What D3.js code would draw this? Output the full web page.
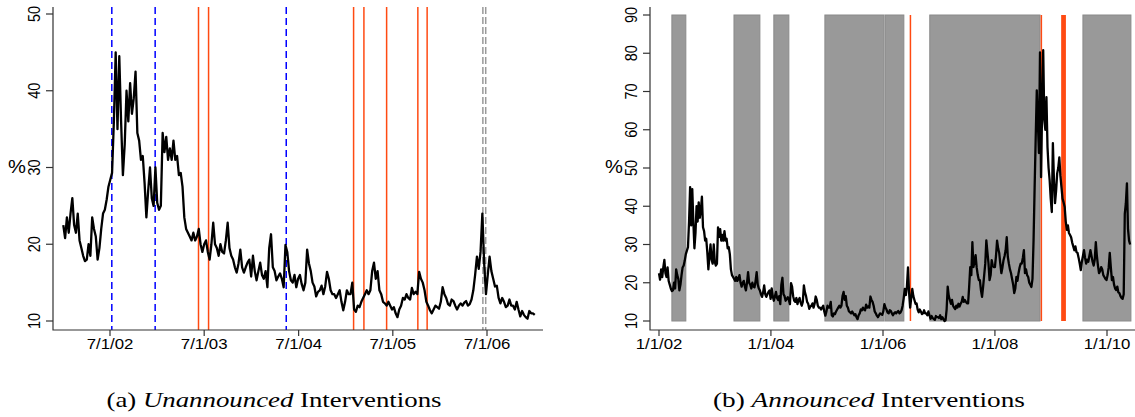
<!DOCTYPE html>
<html><head><meta charset="utf-8">
<script src="https://cdn.jsdelivr.net/npm/d3@7"></script>
<style>body{margin:0;background:#fff}svg{display:block}</style>
</head><body>
<svg id="c" width="1135" height="417"></svg>
<script>
// ---- data ----
const seriesStart = "2002-01-01";
const stepDays = 7;
const volatility = [
 22.5,20.8,23.5,21.5,24.0,26.0,22.5,21.5,24.0,20.5,19.5,18.5,17.8,
 18.0,20.0,18.5,23.5,22.0,21.0,18.0,19.5,22.0,24.0,24.5,25.8,27.5,
 28.4,29.3,36.0,45.0,35.0,44.5,36.0,29.0,33.0,40.0,36.0,41.0,37.0,
 39.0,42.5,34.5,33.5,31.0,31.5,28.0,23.5,27.0,30.0,26.0,25.0,30.0,
 25.4,24.5,25.0,34.5,32.0,34.0,31.0,32.5,31.0,33.5,31.0,31.5,29.0,
 29.3,27.5,23.5,22.0,21.5,21.0,20.5,21.5,20.5,21.0,22.0,20.0,19.0,
 20.0,20.5,19.0,18.0,20.0,22.8,20.0,19.5,18.5,20.0,19.0,18.8,20.5,
 22.8,19.5,18.5,18.0,17.0,16.3,17.5,19.3,17.0,16.3,17.0,17.6,18.0,
 15.8,18.5,16.5,15.3,16.5,17.6,16.0,15.5,16.5,14.4,19.5,21.3,17.0,
 16.5,15.3,15.8,16.2,15.5,14.4,19.9,19.0,16.5,15.3,15.0,16.0,14.4,
 15.5,16.0,14.8,14.0,15.0,19.3,17.5,16.5,15.0,14.5,13.2,13.8,14.0,
 14.6,13.5,14.5,16.4,15.5,14.0,13.5,13.5,13.0,13.5,14.0,12.5,11.4,
 12.5,14.0,13.5,13.5,15.0,11.5,11.2,12.0,11.8,12.5,13.0,13.5,14.0,
 13.5,14.0,16.5,17.6,15.5,16.5,14.0,13.5,12.5,12.3,12.0,12.5,12.0,
 11.5,11.8,11.0,10.5,11.5,12.0,13.0,12.8,13.5,13.0,12.8,14.3,13.5,
 13.8,13.5,16.4,15.5,15.0,14.0,12.5,12.0,11.4,11.0,11.5,12.0,11.8,
 11.6,12.5,14.4,13.5,13.0,12.2,12.0,12.8,12.6,12.0,11.5,12.0,12.3,
 12.0,12.4,12.6,12.0,12.2,12.8,14.0,16.0,18.4,16.8,19.0,24.0,17.5,
 13.5,16.0,18.4,16.5,15.5,14.5,14.6,13.0,12.3,13.0,12.5,11.8,12.0,
 12.8,12.0,12.0,11.5,12.5,11.5,10.6,11.3,10.8,10.5,10.3,11.3,11.0,
 11.0,10.8,11.5,10.5,11.0,10.5,10.0,10.2,13.0,19.0,16.5,15.5,14.5,
 15.5,14.0,13.5,13.1,14.0,13.5,14.5,13.8,14.5,15.0,16.3,15.0,15.5,
 15.0,14.6,14.6,19.0,24.1,22.0,30.6,24.1,25.5,27.2,24.0,22.0,20.7,
 20.7,18.0,16.3,19.0,22.0,25.0,31.1,28.0,25.1,20.7,22.0,25.9,24.5,
 24.1,24.1,27.0,31.0,29.0,27.8,25.0,22.5,24.0,25.9,27.0,28.5,31.9,
 26.8,25.0,23.5,22.5,21.0,19.5,17.3,18.5,21.5,20.5,22.5,24.0,25.0,
 25.0,26.5,28.5,22.5,23.5,22.0,21.5,20.0,19.5,18.9,21.0,31.1,45.0,
 58.0,70.3,62.0,53.9,80.2,47.6,66.0,80.8,62.5,60.0,68.5,55.4,50.0,
 46.8,42.0,38.5,56.5,47.0,40.8,44.0,48.6,50.0,52.8,48.0,45.0,42.0,
 41.0,39.8,36.0,33.8,35.0,33.0,32.5,31.9,30.5,29.5,28.5,29.5,28.0,
 27.8,26.5,25.0,23.3,25.5,27.0,28.5,26.5,25.0,26.0,25.5,27.0,28.5,
 27.0,25.5,24.5,26.0,30.6,27.0,24.5,22.5,23.0,24.1,23.5,22.0,21.5,
 21.0,20.7,22.0,24.0,27.8,24.0,20.7,21.5,19.5,18.5,18.1,19.0,17.5,
 17.3,16.5,16.0,15.8,17.0,38.0,40.8,46.0,34.0,31.0,30.0
];
const leftEnd = "2007-01-05";
const leftTicks = ["2002-07-01","2003-07-01","2004-07-01","2005-07-01","2006-07-01"];
const leftTickLabels = ["7/1/02","7/1/03","7/1/04","7/1/05","7/1/06"];
const leftYTicks = [10,20,30,40,50];
const rightTicks = ["2002-01-01","2004-01-01","2006-01-01","2008-01-01","2010-01-01"];
const rightTickLabels = ["1/1/02","1/1/04","1/1/06","1/1/08","1/1/10"];
const rightYTicks = [10,20,30,40,50,60,70,80,90];
const unannouncedBlue = ["2002-07-08","2002-12-23","2004-05-14"];
const unannouncedOrange = ["2003-06-09","2003-07-18","2005-01-30","2005-03-11","2005-06-07","2005-10-06","2005-11-11"];
const unannouncedGrey = ["2006-06-15","2006-06-26"];
const announcedStart = ["2002-03-26","2003-05-05","2004-01-20","2004-12-18","2006-01-14","2006-11-02","2009-07-28"];
const announcedEnd   = ["2002-06-25","2003-10-21","2004-04-27","2006-01-07","2006-05-17","2008-10-21","2010-06-06"];
const announcedOrangeStart = ["2006-06-24","2008-10-25","2009-03-08"];
const announcedOrangeEnd   = ["2006-06-27","2008-10-28","2009-04-08"];
const captionA = ["(a) ","Unannounced"," Interventions"];
const captionB = ["(b) ","Announced"," Interventions"];

// ---- build ----
const parse = d3.timeParse("%Y-%m-%d");
const start = parse(seriesStart);
const series = volatility.map((v,i)=>({date:d3.timeDay.offset(start,i*stepDays), v}));
const svg = d3.select("#c");
const ORANGE = "#ff4a12";
const AX = "#333";
const sans = "'Liberation Sans', Arial, Helvetica, sans-serif";
const stretch = 1.12;

function panel(o){
  const g = svg.append("g");
  const x = d3.scaleTime().domain(o.xCal.map(parse)).range(o.xCalPx);
  const y = d3.scaleLinear().domain(o.yDom).range(o.yRange);
  o.under(g,x,y);
  const data = o.data;
  g.append("path").datum(data)
    .attr("fill","none").attr("stroke","#000").attr("stroke-width",2.3)
    .attr("stroke-linejoin","round")
    .attr("d", d3.line().x(d=>x(d.date)).y(d=>y(d.v)));
  // L frame
  g.append("path").attr("fill","none").attr("stroke",AX).attr("stroke-width",1.2)
    .attr("d",`M${o.left},${o.top}V${o.bottom}H${o.right}`);
  // y ticks
  o.yTicks.forEach(t=>{
    const yy = y(t);
    g.append("line").attr("x1",o.left-7).attr("x2",o.left).attr("y1",yy).attr("y2",yy)
      .attr("stroke",AX).attr("stroke-width",1.2);
    g.append("text").attr("transform",`translate(${o.left-13},${yy}) scale(${stretch},1) rotate(-90)`)
      .attr("text-anchor","middle").attr("font-family",sans).attr("font-size",14.5)
      .attr("fill","#000").text(t);
  });
  // x ticks
  o.xTicks.forEach((t,i)=>{
    const xx = x(parse(t));
    g.append("line").attr("x1",xx).attr("x2",xx).attr("y1",o.bottom).attr("y2",o.bottom+6)
      .attr("stroke",AX).attr("stroke-width",1.2);
    g.append("text").attr("transform",`translate(${xx},${o.bottom+19}) scale(${stretch},1)`)
      .attr("text-anchor","middle").attr("font-family",sans).attr("font-size",15)
      .attr("fill","#000").text(o.xLabels[i]);
  });
  g.append("text").attr("transform",`translate(${o.left-36},${173}) scale(${stretch},1)`)
    .attr("text-anchor","middle").attr("font-family",sans).attr("font-size",18)
    .attr("fill","#000").text("%");
  // caption
  const cap = g.append("text").attr("x",o.capX).attr("y",407).attr("text-anchor","middle")
    .attr("font-family","'Liberation Serif','Times New Roman',serif").attr("font-size",22)
    .attr("fill","#000").attr("textLength",o.capW).attr("lengthAdjust","spacingAndGlyphs");
  o.caption.forEach((s,i)=>cap.append("tspan").attr("font-style",i===1?"italic":"normal").text(s));
}

// Left panel: unannounced
panel({
  xCal:["2002-07-01","2006-07-01"], xCalPx:[110,487],
  yDom:[10,50], yRange:[321,14],
  left:53, right:543, top:7, bottom:330,
  yTicks:leftYTicks, xTicks:leftTicks, xLabels:leftTickLabels,
  data: series.filter(d=>d.date<=parse(leftEnd)),
  capX:274, capW:335, caption:captionA,
  under:(g,x,y)=>{
    unannouncedBlue.forEach(d=>g.append("line").attr("x1",x(parse(d))).attr("x2",x(parse(d)))
      .attr("y1",7).attr("y2",330).attr("stroke","#0000ff").attr("stroke-width",1.5).attr("stroke-dasharray","7,4"));
    unannouncedOrange.forEach(d=>g.append("line").attr("x1",x(parse(d))).attr("x2",x(parse(d)))
      .attr("y1",7).attr("y2",330).attr("stroke",ORANGE).attr("stroke-width",1.5));
    unannouncedGrey.forEach(d=>g.append("line").attr("x1",x(parse(d))).attr("x2",x(parse(d)))
      .attr("y1",7).attr("y2",330).attr("stroke","#999").attr("stroke-width",1.5).attr("stroke-dasharray","7,3"));
  }
});

// Right panel: announced
panel({
  xCal:["2002-01-01","2010-01-01"], xCalPx:[659,1107],
  yDom:[10,90], yRange:[321,15],
  left:650, right:1135, top:7, bottom:330,
  yTicks:rightYTicks, xTicks:rightTicks, xLabels:rightTickLabels,
  data: series,
  capX:869, capW:312, caption:captionB,
  under:(g,x,y)=>{
    announcedStart.forEach((s,i)=>{
      const x0 = x(parse(s)), x1 = x(parse(announcedEnd[i]));
      g.append("rect").attr("x",x0).attr("y",y(90)).attr("width",x1-x0).attr("height",y(10)-y(90))
        .attr("fill","#999999").attr("stroke","#8a8a8a").attr("stroke-width",1);
    });
    announcedOrangeStart.forEach((s,i)=>{
      const x0 = x(parse(s)), x1 = x(parse(announcedOrangeEnd[i]));
      g.append("rect").attr("x",x0).attr("y",y(90)).attr("width",Math.max(1.5,x1-x0)).attr("height",y(10)-y(90))
        .attr("fill",ORANGE);
    });
  }
});
</script>
</body></html>
